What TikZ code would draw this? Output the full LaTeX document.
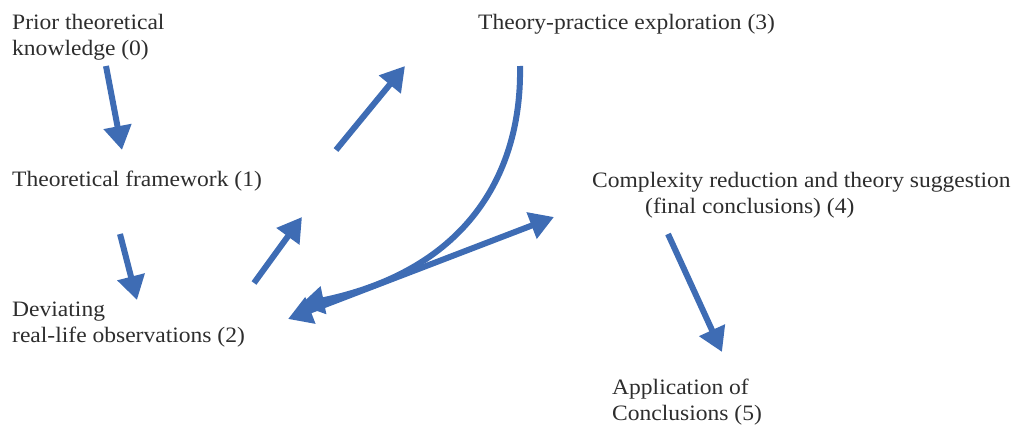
\documentclass[tikz,border=0pt]{standalone}
\usepackage{fontspec}
\setmainfont{Liberation Serif}[FakeStretch=1.07]
\usetikzlibrary{arrows.meta}
\definecolor{arrowblue}{RGB}{62,108,180}
\definecolor{txt}{RGB}{45,45,45}
\tikzset{
  lbl/.style={anchor=base west, inner sep=0pt, text=txt, font=\fontsize{22}{26}\selectfont, align=left},
  bigarrow/.style={draw=arrowblue, line width=6pt, -{Triangle[length=24pt,width=27pt]}},
  dblarrow/.style={draw=arrowblue, line width=6pt, {Triangle[length=24pt,width=27pt]}-{Triangle[length=24pt,width=27pt]}},
}
\begin{document}
\begin{tikzpicture}[x=1pt,y=-1pt]
\useasboundingbox (0,0) rectangle (1014,425);
% labels (anchor at baseline of last line)
\node[lbl] (n0) at (12,56) {Prior theoretical\\knowledge (0)};
\node[lbl] (n3) at (478,30) {Theory-practice exploration (3)};
\node[lbl] (n1) at (12,186) {Theoretical framework (1)};
\node[lbl] (n4) at (592,213) {Complexity reduction and theory suggestion\\\hspace*{53pt}(final conclusions) (4)};
\node[lbl] (n2) at (12,342) {Deviating\\real-life observations (2)};
\node[lbl] (n5) at (612,420) {Application of\\Conclusions (5)};
% arrow endpoints
\coordinate (a0s) at (106,66);
\coordinate (a0e) at (122,150);
\coordinate (a1s) at (120,234);
\coordinate (a1e) at (137,300);
\coordinate (a2s) at (254,283);
\coordinate (a2e) at (302,217);
\coordinate (a3s) at (336,150);
\coordinate (a3e) at (405,66);
\coordinate (cs) at (520,66);
\coordinate (ce) at (300,305);
\coordinate (ds) at (288,319);
\coordinate (de) at (554,217);
\coordinate (a4s) at (668,234);
\coordinate (a4e) at (722,352);
% arrows
\draw[bigarrow] (a0s) -- (a0e);
\draw[bigarrow] (a1s) -- (a1e);
\draw[bigarrow] (a2s) -- (a2e);
\draw[bigarrow] (a3s) -- (a3e);
\draw[bigarrow] (cs) .. controls (522,170) and (470,270) .. (ce);
\draw[dblarrow] (ds) -- (de);
\draw[bigarrow] (a4s) -- (a4e);
\end{tikzpicture}
\end{document}
